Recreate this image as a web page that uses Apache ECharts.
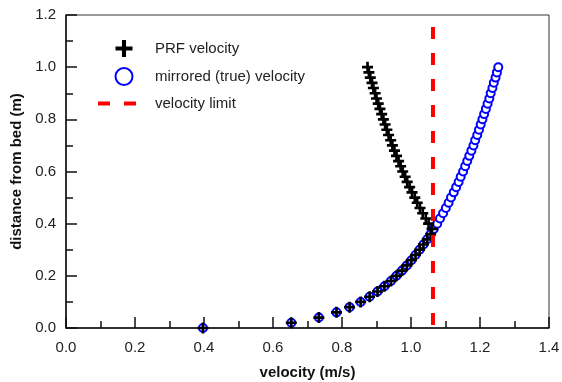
<!DOCTYPE html>
<html>
<head>
<meta charset="utf-8">
<script src="https://cdn.jsdelivr.net/npm/echarts@6/dist/echarts.min.js"></script>
<style>
  html, body { margin: 0; padding: 0; background: #fff; }
  #chart { width: 562px; height: 382px; }
</style>
</head>
<body>
<div id="chart"></div>
<script>
// distance from bed (m), one point every 0.02 m
const depths = [0.00, 0.02, 0.04, 0.06, 0.08, 0.10, 0.12, 0.14, 0.16, 0.18,
  0.20, 0.22, 0.24, 0.26, 0.28, 0.30, 0.32, 0.34, 0.36, 0.38,
  0.40, 0.42, 0.44, 0.46, 0.48, 0.50, 0.52, 0.54, 0.56, 0.58,
  0.60, 0.62, 0.64, 0.66, 0.68, 0.70, 0.72, 0.74, 0.76, 0.78,
  0.80, 0.82, 0.84, 0.86, 0.88, 0.90, 0.92, 0.94, 0.96, 0.98, 1.00];

// mirrored (true) velocity, m/s
const trueVelocity = [0.397, 0.653, 0.733, 0.784, 0.822, 0.854, 0.880, 0.903, 0.923, 0.942,
  0.958, 0.974, 0.988, 1.001, 1.013, 1.025, 1.036, 1.047, 1.057, 1.066,
  1.076, 1.084, 1.093, 1.101, 1.109, 1.116, 1.124, 1.131, 1.138, 1.144,
  1.151, 1.157, 1.163, 1.169, 1.175, 1.181, 1.186, 1.192, 1.197, 1.202,
  1.207, 1.212, 1.217, 1.222, 1.227, 1.231, 1.236, 1.240, 1.245, 1.249, 1.253];

// PRF velocity (aliased above the limit), m/s
const prfVelocity = [0.397, 0.653, 0.733, 0.784, 0.822, 0.854, 0.880, 0.903, 0.923, 0.942,
  0.958, 0.974, 0.988, 1.001, 1.013, 1.025, 1.036, 1.047, 1.057, 1.061,
  1.051, 1.043, 1.034, 1.026, 1.018, 1.011, 1.003, 0.996, 0.989, 0.983,
  0.976, 0.970, 0.964, 0.958, 0.952, 0.946, 0.941, 0.935, 0.930, 0.925,
  0.920, 0.915, 0.910, 0.905, 0.900, 0.896, 0.891, 0.887, 0.882, 0.878, 0.874];

const velocityLimit = 1.0637;
const limitSpan = [1.2, 0.0];

const seriesNames = ['PRF velocity', 'mirrored (true) velocity', 'velocity limit'];

const plusIcon = 'path://M3.8,0H6.2V3.8H10V6.2H6.2V10H3.8V6.2H0V3.8H3.8Z';
const font = 'Liberation Sans, Arial, sans-serif';

const chart = echarts.init(document.getElementById('chart'));
chart.setOption({
  backgroundColor: '#fff',
  animation: false,
  grid: {
    left: 66, right: 13, top: 15, bottom: 54,
    outerBoundsMode: 'none',
    show: true, borderColor: '#333', borderWidth: 1
  },
  legend: {
    orient: 'vertical',
    left: 96, top: 40,
    padding: 0,
    itemWidth: 52, itemHeight: 17, itemGap: 10,
    textStyle: { fontFamily: font, fontSize: 15, color: '#222' },
    data: [
      { name: seriesNames[0], icon: plusIcon, itemStyle: { color: '#000', opacity: 1 } },
      { name: seriesNames[1], itemStyle: { borderWidth: 2.5, opacity: 1 } },
      {
        name: seriesNames[2],
        itemStyle: { opacity: 0 },
        lineStyle: { type: [12, 14], dashOffset: 0, width: 4, color: '#ff0000' }
      }
    ]
  },
  xAxis: {
    type: 'value', min: 0, max: 1.4, interval: 0.2,
    name: 'velocity (m/s)', nameLocation: 'middle', nameGap: 37,
    nameTextStyle: { fontFamily: font, fontSize: 15, fontWeight: 'bold', color: '#111' },
    axisLine: { show: true, onZero: false, lineStyle: { color: '#111', width: 1.5 } },
    axisTick: { show: true, inside: true, length: 11, lineStyle: { color: '#111', width: 1.5 } },
    minorTick: { show: true, splitNumber: 2, length: 7, lineStyle: { color: '#111', width: 1.5 } },
    splitLine: { show: false },
    axisLabel: {
      fontFamily: font, fontSize: 15, color: '#222', margin: 12,
      formatter: v => v.toFixed(1)
    }
  },
  yAxis: {
    type: 'value', min: 0, max: 1.2, interval: 0.2,
    name: 'distance from bed (m)', nameLocation: 'middle', nameGap: 36,
    nameTextStyle: { fontFamily: font, fontSize: 15, fontWeight: 'bold', color: '#111' },
    axisLine: { show: true, onZero: false, lineStyle: { color: '#111', width: 1.5 } },
    axisTick: { show: true, inside: true, length: 11, lineStyle: { color: '#111', width: 1.5 } },
    minorTick: { show: true, splitNumber: 2, length: 7, lineStyle: { color: '#111', width: 1.5 } },
    splitLine: { show: false },
    axisLabel: {
      fontFamily: font, fontSize: 15, color: '#222', margin: 10,
      formatter: v => v.toFixed(1)
    }
  },
  series: [
    {
      name: seriesNames[1],
      type: 'scatter',
      symbol: 'emptyCircle',
      symbolSize: 8,
      itemStyle: { color: '#0000ff', borderColor: '#0000ff', borderWidth: 2.5, opacity: 1 },
      data: trueVelocity.map((v, i) => [v, depths[i]]),
      z: 2
    },
    {
      name: seriesNames[0],
      type: 'scatter',
      symbol: plusIcon,
      symbolSize: 11,
      itemStyle: { color: '#000', opacity: 1 },
      data: prfVelocity.map((v, i) => [v, depths[i]]),
      z: 3
    },
    {
      name: seriesNames[2],
      type: 'line',
      symbol: 'none',
      color: '#ff0000',
      lineStyle: { color: '#ff0000', width: 4, type: [12, 14], dashOffset: 14 },
      data: limitSpan.map(y => [velocityLimit, y]),
      z: 4
    }
  ]
});
</script>
</body>
</html>
